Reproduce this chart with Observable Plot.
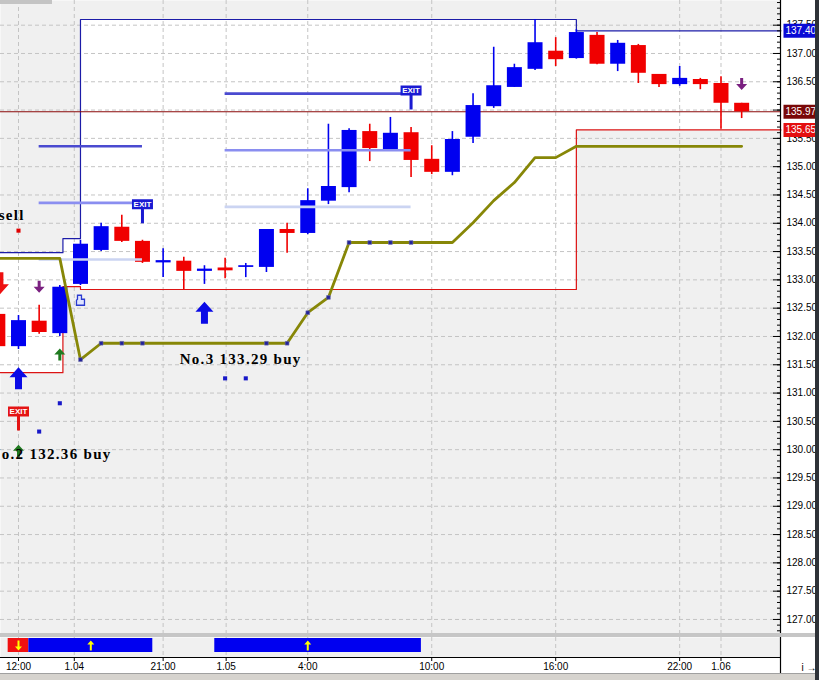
<!DOCTYPE html>
<html>
<head>
<meta charset="utf-8">
<script src="https://cdn.jsdelivr.net/npm/d3@7"></script>
<script src="https://cdn.jsdelivr.net/npm/@observablehq/plot@0.6"></script>
<style>
html,body{margin:0;padding:0;background:#fff;}
#wrap{position:relative;width:819px;height:680px;overflow:hidden;background:#fff;}
#main{position:absolute;left:0;top:0;}
#sep{position:absolute;left:0;top:633px;width:815px;height:4px;background:#c6c6c6;}
#ind{position:absolute;left:0;top:637px;}
#toolbar{position:absolute;left:0;top:673px;width:815px;height:7px;background:#d6d3ce;border-top:1px solid #a0a0a0;}
#edge{position:absolute;left:815px;top:0;width:4px;height:680px;background:#2e3238;}
#tab{position:absolute;left:0;top:0;width:52px;height:4px;background:#c4c4c4;}
svg{display:block;}
</style>
</head>
<body>
<div id="wrap"><div id="main"></div><div id="sep"></div><div id="ind"></div><div id="toolbar"></div><div id="tab"></div><div id="edge"></div></div>
<script>
// ---------- DATA ----------
// candles (bar index, OHLC)
const barIndex = [-1,0,1,2,3,4,5,6,7,8,9,10,11,12,13,14,15,16,17,18,19,20,21,22,23,24,25,26,27,28,29,30,31,32,33,34,35];
const opens  = [132.39,131.82,132.27,132.05,132.92,133.52,133.93,133.68,133.30,133.33,133.15,133.21,133.22,133.22,133.89,133.82,134.39,134.63,135.62,135.30,135.60,135.13,134.90,135.52,136.06,136.40,136.72,137.04,136.91,137.32,136.81,137.14,136.63,136.45,136.54,136.47,136.12];
const highs  = [132.45,132.37,132.55,132.90,133.70,134.00,134.14,133.70,133.55,133.40,133.25,133.38,133.29,133.89,134.00,134.61,135.75,135.67,135.75,135.87,135.69,135.37,135.62,136.29,137.11,136.81,137.60,137.28,137.42,137.37,137.23,137.16,136.63,136.77,136.56,136.59,136.12];
const lows   = [131.75,131.77,132.04,132.00,132.90,133.50,133.66,133.29,133.04,132.83,132.92,133.02,133.04,133.13,133.47,133.80,134.33,134.54,135.09,135.30,134.81,134.86,134.84,135.41,136.03,136.40,136.70,136.77,136.90,136.80,136.68,136.47,136.40,136.42,136.36,135.66,135.85];
const closes = [131.82,132.28,132.07,132.87,133.63,133.94,133.68,133.31,133.34,133.15,133.19,133.16,133.25,133.89,133.82,134.40,134.65,135.64,135.32,135.59,135.11,134.90,135.48,136.08,136.43,136.75,137.19,136.89,137.37,136.81,137.18,136.65,136.45,136.56,136.45,136.12,135.97];

// stepped high / low channel
const channelIndex = [-1, 2.15, 3, 27, 36.9];
const channelHigh  = [133.48, 133.73, 137.60, 137.40, 137.40];
const channelLow   = [131.36, 132.88, 132.83, 135.65, 135.65];

// olive trailing line and its markers
const trailIndex = [-1, 2, 3, 4, 13, 14, 15, 16, 21, 22, 23, 24, 25, 26, 27, 35];
const trailValue = [133.38,133.38,131.59,131.88,131.88,132.42,132.69,133.66,133.66,134.01,134.40,134.72,135.16,135.16,135.36,135.36];
const trailMarkIndex = [3,4,5,6,12,13,14,15,16,17,18,19];
const trailMarkValue = [131.59,131.88,131.88,131.88,131.88,131.88,132.42,132.69,133.66,133.66,133.66,133.66];

// target lines of trades No.2 and No.3
const targetStart = [1,1,1,10,10,10];
const targetEnd   = [6,6,6,19,19,19];
const targetPrice = [135.36,134.36,133.36,136.29,135.29,134.29];
const targetLevel = [3,2,1,3,2,1];

// small signal dots
const dotIndex = [1, 2, 10, 11, 0];
const dotPrice = [130.32, 130.82, 131.26, 131.26, 133.87];
const dotKind  = ["blue","blue","blue","blue","red"];

// arrows
const arrowIndex = [0, 9, -0.9, 1, 35, 2, 0];
const arrowPrice = [131.26, 132.42, 132.94, 132.88, 136.46, 131.68, 129.98];
const arrowKind  = ["bigUp","bigUp","bigDown","smallDown","smallDown","smallUp","smallUp"];

// EXIT flags (pole foot price)
const exitIndex = [6, 19, 0];
const exitPrice = [134.00, 136.01, 130.34];
const exitColor = ["blue","blue","red"];

// trade notes
const noteText   = ["sell", "No.2 132.36 buy", "No.3 133.29 buy"];
const noteIndex  = [0.3, -1.4, 7.8];
const notePrice  = [134.14, 129.92, 131.59];
const noteAnchor = ["end", "start", "start"];

// current / channel price tags
const tagPrice = [137.40, 135.97, 135.65];
const tagColor = ["#0a0ad6", "#7a0808", "#e41010"];
const lastPrice = 135.97;

// axes
const priceTicks = [127.0,127.5,128.0,128.5,129.0,129.5,130.0,130.5,131.0,131.5,132.0,132.5,133.0,133.5,134.0,134.5,135.0,135.5,136.0,136.5,137.0,137.5];
const priceLabelTicks = [127.0,127.5,128.0,128.5,129.0,129.5,130.0,130.5,131.0,131.5,132.0,132.5,133.0,133.5,134.0,134.5,135.0,135.5,136.5,137.0,137.5];
const minorTicks = d3.range(126.8, 137.95, 0.1);
const timeLabels = ["12:00","1.04","21:00","1.05","4:00","10:00","16:00","22:00","1.06"];
const timeIndex  = [0, 2.7, 7, 10.05, 14, 20, 26, 32, 34];

// lower signal panel
const signalStart = [0, 1, 10];
const signalEnd   = [0, 6, 19];
const signalDir   = ["down", "up", "up"];
const signalArrowAt = [0, 3.5, 14];

// ---------- BUILD ----------
const candles = barIndex.map((i,k)=>({i, o:opens[k], h:highs[k], l:lows[k], c:closes[k]}));
const UP = "#0000f0", DN = "#f00000";
const ccol = d => d.c >= d.o ? UP : DN;
const channel = channelIndex.map((i,k)=>({i, hi:channelHigh[k], lo:channelLow[k]}));
const trail = trailIndex.map((i,k)=>({i, v:trailValue[k]}));
const trailMarks = trailMarkIndex.map((i,k)=>({i, v:trailMarkValue[k]}));
const targetColors = {3:"#4a4ad0", 2:"#8a8ef0", 1:"#cbd4f2"};
const targets = targetPrice.map((p,k)=>({x1:targetStart[k], x2:targetEnd[k], p, c:targetColors[targetLevel[k]]}));
const dots = dotIndex.map((i,k)=>({i, p:dotPrice[k], c: dotKind[k]==="red" ? "#e00000" : "#1818c8"}));

const poly = pts => ({draw(ctx){ ctx.moveTo(pts[0][0],pts[0][1]); for (const p of pts.slice(1)) ctx.lineTo(p[0],p[1]); ctx.closePath(); }});
const flip = pts => pts.map(([x,y])=>[x,-y]);
const bigUpPts = [[0,-11],[9,-1],[3.5,-1],[3.5,11],[-3.5,11],[-3.5,-1],[-9,-1]];
const smallUpPts = [[0,-6],[5.5,0],[1.5,0],[1.5,6],[-1.5,6],[-1.5,0],[-5.5,0]];
const symbols = {bigUp: poly(bigUpPts), bigDown: poly(flip(bigUpPts)), smallUp: poly(smallUpPts), smallDown: poly(flip(smallUpPts))};
const arrowColor = {bigUp:"#0a0ae6", bigDown:"#ee1010", smallUp:"#1f7a1f", smallDown:"#7a2080"};
const arrows = arrowIndex.map((i,k)=>({i, p:arrowPrice[k], kind:arrowKind[k]}));
const flagSym = {draw(ctx){ ctx.rect(-10.5,-24,21,10); ctx.rect(-1.5,-14,3,14); }};
const exits = exitIndex.map((i,k)=>({i, p:exitPrice[k], c: exitColor[k]==="red" ? "#e41414" : "#1a1ad2"}));
const notes = noteText.map((t,k)=>({t, i:noteIndex[k], p:notePrice[k], a:noteAnchor[k]}));
const tags = tagPrice.map((p,k)=>({p, c:tagColor[k]}));
const boxSym = {draw(ctx){ ctx.rect(3,-7,32,14); }};
const sArrow = [[0,-5],[3.5,-1],[1,-1],[1,5],[-1,5],[-1,-1],[-3.5,-1]];
const smallArrowUp = poly(sArrow);
const smallArrowDown = poly(flip(sArrow));
const handSym = {draw(ctx){ ctx.moveTo(-3,-5); ctx.lineTo(1,-5); ctx.lineTo(1,-1); ctx.lineTo(4,-1); ctx.lineTo(4,5); ctx.lineTo(-4,5); ctx.lineTo(-4,0); ctx.lineTo(-3,-1); ctx.closePath(); }};

const xDomain = [-0.871, 36.88];
const yDomain = [126.752, 137.936];
const grid = {stroke:"#c4c4c4", strokeDasharray:"4,3", strokeWidth:1};
const labelOf = new Map(timeIndex.map((t,k)=>[t, timeLabels[k]]));
const noteStyle = {x:"i", y:"p", text:"t", fill:"#000", fontSize:15, fontWeight:"bold", fontFamily:"'Liberation Serif', 'DejaVu Serif', serif"};

const mainPlot = Plot.plot({
  width: 819, height: 633,
  marginLeft: 0, marginRight: 39, marginTop: 0, marginBottom: 0,
  x: {domain: xDomain, axis: null},
  y: {domain: yDomain, axis: null},
  style: {background: "#ffffff", fontFamily: "'Liberation Sans', Arial, sans-serif", overflow: "visible"},
  marks: [
    Plot.frame({fill: "#f0f0f0", stroke: null}),
    Plot.areaY(channel, {x:"i", y1:"lo", y2:"hi", curve:"step-after", fill:"#ffffff"}),
    Plot.ruleY(priceTicks, grid),
    Plot.ruleX(timeIndex, grid),
    Plot.lineY(channel, {x:"i", y:"hi", curve:"step-after", stroke:"#1c1ca8", strokeWidth:1.2}),
    Plot.lineY(channel, {x:"i", y:"lo", curve:"step-after", stroke:"#dc1414", strokeWidth:1.2}),
    Plot.ruleY([lastPrice], {stroke:"#8b0a0a", strokeWidth:1.2}),
    // candles
    Plot.ruleX(candles, {x:"i", y1:"l", y2:"h", stroke: ccol, strokeWidth:1.6}),
    Plot.ruleX(candles, {x:"i", y1:"o", y2:"c", stroke: ccol, strokeWidth:15}),
    // targets
    Plot.ruleY(targets, {y:"p", x1:"x1", x2:"x2", stroke: d=>d.c, strokeWidth:2.6}),
    // olive trailing line
    Plot.line(trail, {x:"i", y:"v", stroke:"#878707", strokeWidth:2.8}),
    Plot.dot(trailMarks, {x:"i", y:"v", symbol:"square", r:2.1, fill:"#22229a", stroke:"#6a6aa8", strokeWidth:0.6}),
    Plot.dot(dots, {x:"i", y:"p", symbol:"square", r:2.3, fill: d=>d.c, stroke:"none"}),
    // arrows
    ...Object.keys(symbols).map(kind => Plot.dot(arrows.filter(a=>a.kind===kind), {x:"i", y:"p", symbol: symbols[kind], fill: arrowColor[kind], stroke:"none"})),
    // hand icon
    Plot.dot([{i:3, p:132.64}], {x:"i", y:"p", symbol: handSym, fill:"#dfe4ff", stroke:"#2a3ad0", strokeWidth:1.3}),
    // exit flags
    Plot.dot(exits, {x:"i", y:"p", symbol: flagSym, fill: d=>d.c, stroke:"none"}),
    Plot.text(exits, {x:"i", y:"p", text: ()=>"EXIT", dy:-19, fill:"#ffffff", fontSize:8, fontWeight:"bold"}),
    // notes
    Plot.text(notes.filter(d=>d.a==="end"), {...noteStyle, textAnchor:"end"}),
    Plot.text(notes.filter(d=>d.a==="start"), {...noteStyle, textAnchor:"start"}),
    // right axis
    Plot.ruleX([xDomain[1]], {stroke:"#000", strokeWidth:1.2}),
    Plot.tickY(minorTicks, {y: d=>d, insetLeft: 777, stroke:"#000"}),
    Plot.tickY(priceTicks, {y: d=>d, insetLeft: 773, stroke:"#000"}),
    Plot.text(priceLabelTicks, {y: d=>d, text: d=>d.toFixed(2), frameAnchor:"right", textAnchor:"start", dx:6, fontSize:10, fill:"#000"}),
    Plot.dot(tags, {y:"p", frameAnchor:"right", symbol: boxSym, fill: d=>d.c, stroke:"none"}),
    Plot.text(tags, {y:"p", text: d=>d.p.toFixed(2), frameAnchor:"right", textAnchor:"start", dx:5, fontSize:10, fill:"#ffffff"})
  ]
});
d3.select(mainPlot).selectAll('g[font-size="15"] text').style("letter-spacing", "1.3px");
document.getElementById("main").appendChild(mainPlot);

const signals = signalStart.map((s,k)=>({s, e:signalEnd[k], dir:signalDir[k]}));
const sigArrows = signalArrowAt.map((i,k)=>({i, dir:signalDir[k]}));
const indPlot = Plot.plot({
  width: 819, height: 36,
  marginLeft: 0, marginRight: 39, marginTop: 0, marginBottom: 16,
  x: {domain: xDomain},
  y: {domain: [0,1], axis: null},
  style: {background: "#ffffff", fontFamily: "'Liberation Sans Narrow', 'Liberation Sans', Arial, sans-serif", overflow: "visible"},
  marks: [
    Plot.frame({fill:"#f0f0f0", stroke:null}),
    Plot.ruleX(timeIndex, grid),
    Plot.rect(signals, {x1: d=>d.s-0.5, x2: d=>d.e+0.5, insetTop:1, insetBottom:5, fill: d=>d.dir==="up" ? "#0000f0" : "#f01010"}),
    Plot.dot(sigArrows.filter(d=>d.dir==="up"), {x:"i", frameAnchor:"top", dy:8, symbol: smallArrowUp, fill:"#ffff00", stroke:"none"}),
    Plot.dot(sigArrows.filter(d=>d.dir==="down"), {x:"i", frameAnchor:"top", dy:8, symbol: smallArrowDown, fill:"#ffff00", stroke:"none"}),
    Plot.ruleY([0], {stroke:"#000", strokeWidth:1.2}),
    Plot.ruleX([xDomain[1]], {stroke:"#000", strokeWidth:1.2, insetBottom:-16}),
    Plot.axisX(timeIndex, {anchor:"bottom", tickSize:4, tickPadding:1, tickFormat: d=>labelOf.get(d), fontSize:10, fill:"#000", stroke:"#000"})
  ]
});
document.getElementById("ind").appendChild(indPlot);
</script>
</body>
</html>
